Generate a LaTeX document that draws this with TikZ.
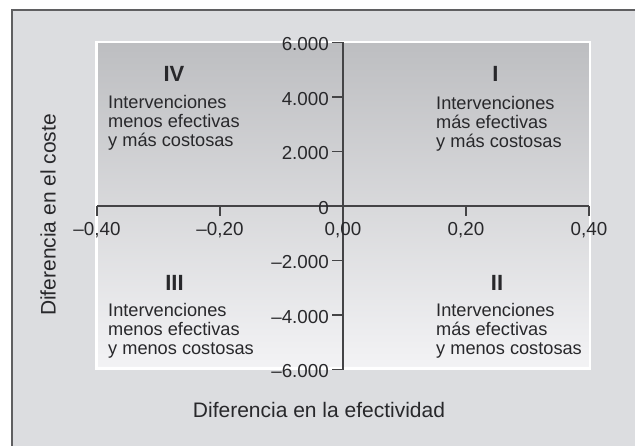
\documentclass[tikz,border=0pt]{standalone}
\usepackage{fontspec}
\setmainfont{Liberation Sans}
\usepackage{tikz}
\usetikzlibrary{positioning}
\definecolor{framebg}{RGB}{220,221,224}
\definecolor{framegray}{RGB}{95,95,97}
\definecolor{plottop}{RGB}{189,190,193}
\definecolor{plotbot}{RGB}{243,243,245}
\definecolor{axisgray}{RGB}{68,68,70}
\definecolor{textgray}{RGB}{40,40,43}
\tikzset{
% Define text and line styles
axisline/.style={draw=axisgray, line width=1.2pt},
quadnum/.style={font=\fontsize{22}{22}\selectfont\bfseries, text=textgray, inner sep=0},
quadtext/.style={font=\fontsize{18.2}{19}\selectfont, text=textgray, align=left, inner sep=0, anchor=north west},
ticklabel/.style={font=\fontsize{18.8}{19}\selectfont, text=textgray, inner sep=0},
axistitle/.style={font=\fontsize{21}{22}\selectfont, text=textgray, inner sep=0}
}

\begin{document}
\begin{tikzpicture}[x=1pt, y=1pt]
  \useasboundingbox (0,0) rectangle (635,-446);
  \fill[white] (0,0) rectangle (635,-446);
  \draw[framegray, line width=1.6pt, fill=framebg] (12,-10) rectangle (660,-470);

  \node[rectangle, draw=white,
    line width=2.5pt,
    minimum width = 493.5pt,
    minimum height = 326.5pt,
    top color = plottop,
    bottom color = plotbot] (plot) at (343,-205.5) {};

  \begin{scope}[shift={(343pt,-206pt)}, x=615pt, y=0.02725pt]
    \coordinate (xmin) at (-0.4,0);
    \coordinate (xmax) at (0.4,0);
    \coordinate (ymin) at (0,-6000);
    \coordinate (ymax) at (0,6000);
    \draw[axisline] (xmin) -- (xmax);
    \draw[axisline] (ymin) -- (ymax);

    \foreach \xv/\xl [count=\i] in {-0.4/{–0,40}, -0.2/{–0,20}, 0/{0,00}, 0.2/{0,20}, 0.4/{0,40}} {
      \draw[axisline] (\xv,0) -- ++(0pt,-10pt);
      \node[ticklabel] (xlab\i) at ([yshift=-24pt]\xv,0) {\xl};
    }
    \foreach \yv/\yl [count=\i] in {6000/6.000, 4000/4.000, 2000/2.000, 0/0, -2000/{–2.000}, -4000/{–4.000}, -6000/{–6.000}} {
      \draw[axisline] (0,\yv) -- ++(-11pt,0pt);
      \node[ticklabel, anchor=east] (ylab\i) at ([xshift=-14pt, yshift=-2pt]0,\yv) {\yl};
    }
  \end{scope}

  \node[quadnum] (num4) at (174,-74) {IV};
  \node[quadtext] (txt4) at (108,-95) {Intervenciones\\menos efectivas\\y más costosas};
  \node[quadnum] (num1) at (495.5,-73.5) {I};
  \node[quadtext] (txt1) at (436,-96) {Intervenciones\\más efectivas\\y más costosas};
  \node[quadnum] (num3) at (174.5,-282.5) {III};
  \node[quadtext] (txt3) at (108,-303) {Intervenciones\\menos efectivas\\y menos costosas};
  \node[quadnum] (num2) at (497,-282.5) {II};
  \node[quadtext] (txt2) at (436,-303) {Intervenciones\\más efectivas\\y menos costosas};

  \node[axistitle] (xtitle) at (319,-410) {Diferencia en la efectividad};
  \node[axistitle, rotate=90] (ytitle) at (48,-215) {Diferencia en el coste};
\end{tikzpicture}
\end{document}
